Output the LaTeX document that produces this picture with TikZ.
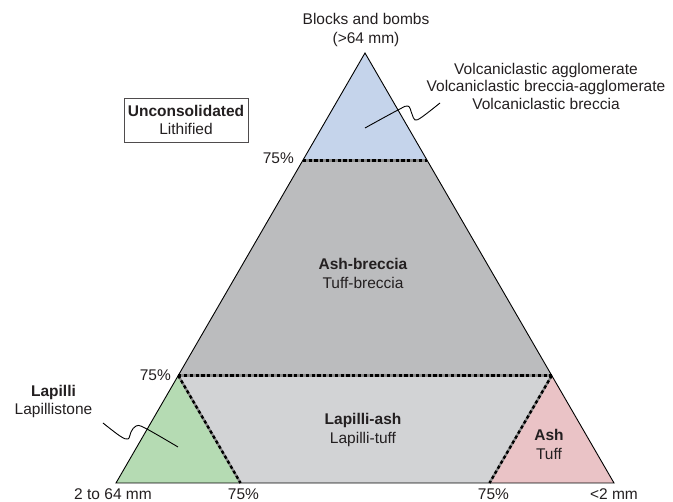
\documentclass[tikz,border=0pt]{standalone}
\usepackage{fontspec}
\setmainfont{Liberation Sans}
\usepackage{tikz}

\definecolor{blockblue}{HTML}{C5D4EB}
\definecolor{brecgray}{HTML}{BBBCBE}
\definecolor{tuffgray}{HTML}{D2D3D5}
\definecolor{lapgreen}{HTML}{B5DBB3}
\definecolor{ashpink}{HTML}{EAC3C6}
\definecolor{inkc}{HTML}{231F20}

\tikzset{
  lbl/.style={text=inkc, align=center, inner sep=1pt, font=\fontsize{15.5}{18.5}\selectfont},
  border75/.style={draw=gray!90, line width=2.4pt},
  dash75/.style={draw=black, line width=2.4pt, dash pattern=on 3.2pt off 2.6pt},
}

\begin{document}
\begin{tikzpicture}[x=1pt, y=-1pt]
\useasboundingbox (0,0) rectangle (673,502);

% corners of the triangle
\coordinate (A) at (365,53);
\coordinate (L) at (116,483);
\coordinate (R) at (614,483);
% 75% points
\coordinate (tl) at (302.75,160.5);
\coordinate (tr) at (427.25,160.5);
\coordinate (ml) at (178.25,375.5);
\coordinate (mr) at (551.75,375.5);
\coordinate (bl) at (240.5,483);
\coordinate (br) at (489.5,483);

% fields
\fill[blockblue] (A) -- (tl) -- (tr) -- cycle;
\fill[brecgray] (tl) -- (tr) -- (mr) -- (ml) -- cycle;
\fill[tuffgray] (ml) -- (mr) -- (br) -- (bl) -- cycle;
\fill[lapgreen] (L) -- (ml) -- (bl) -- cycle;
\fill[ashpink] (R) -- (mr) -- (br) -- cycle;

% 75% boundaries
\draw[border75] (tl) -- (tr);
\draw[border75] (ml) -- (mr);
\draw[border75] (ml) -- (bl);
\draw[border75] (mr) -- (br);
\draw[dash75] (tl) -- (tr);
\draw[dash75] (ml) -- (mr);
\draw[dash75] (ml) -- (bl);
\draw[dash75] (mr) -- (br);

\draw[line width=0.9pt, line join=miter] (A) -- (L) -- (R) -- cycle;

% labels
\node[lbl] (blocks) at (366,30) {Blocks and bombs\\(>64 mm)};
\node[lbl, font=\fontsize{15.5}{17.5}\selectfont] (volc) at (546,86) {Volcaniclastic agglomerate\\Volcaniclastic breccia-agglomerate\\Volcaniclastic breccia};
\node[lbl, draw=inkc!80, line width=0.7pt, inner xsep=4pt, inner ysep=7pt] (key) at (186,120) {\textbf{Unconsolidated}\\Lithified};
\node[lbl] (brec) at (363,273.5) {\textbf{Ash-breccia}\\Tuff-breccia};
\node[lbl] (laptuff) at (363,430) {\textbf{Lapilli-ash}\\Lapilli-tuff};
\node[lbl] (ash) at (549,444.5) {\textbf{Ash}\\Tuff};
\node[lbl] (lapilli) at (53.5,401.5) {\textbf{Lapilli}\\Lapillistone};

\node[lbl, anchor=east] (p1) at (295,158.5) {75\%};
\node[lbl, anchor=east] (p2) at (172,375) {75\%};
\node[lbl] (p3) at (243.5,494) {75\%};
\node[lbl] (p4) at (493.5,494) {75\%};
\node[lbl] (coarse) at (113,494) {2 to 64 mm};
\node[lbl] (fine) at (614,494) {<2 mm};

% leader lines
\draw[line width=0.9pt] plot[smooth, tension=.6] coordinates {(365,128) (398,110) (408,106) (412,114) (415,120) (422,117) (440,103)};
\draw[line width=0.9pt] plot[smooth, tension=.6] coordinates {(103,423) (120,436) (128,439) (131,432) (136,426) (145,428) (178,447)};
\end{tikzpicture}
\end{document}
